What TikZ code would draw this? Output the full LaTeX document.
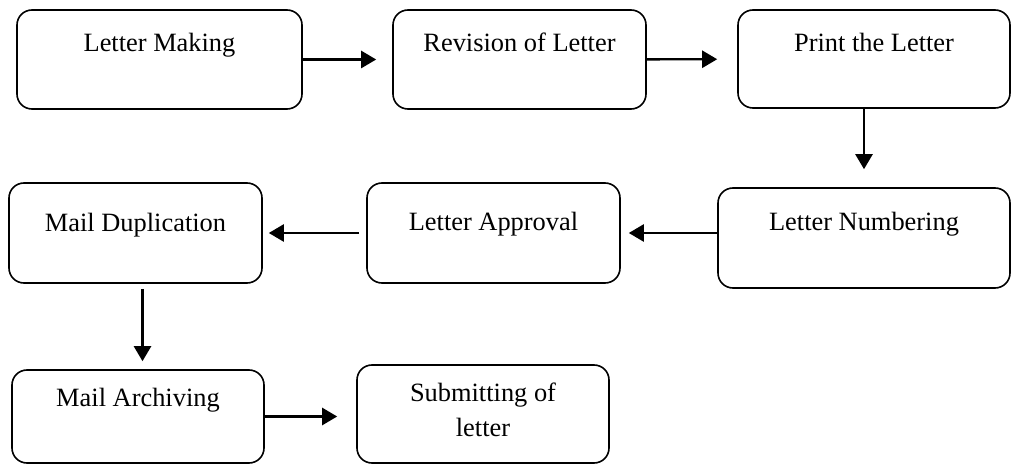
\documentclass[tikz,border=0pt]{standalone}
\usepackage{fontspec}
\setmainfont{Liberation Serif}
\usetikzlibrary{arrows.meta}
\tikzset{
  stage/.style={draw, line width=1.6pt, rounded corners=15pt, inner sep=0pt, align=center,
    font=\fontsize{26.4}{35}\selectfont},
  flow/.style={-{Triangle[length=15pt,width=17pt]}, line width=2.4pt}
}
\begin{document}
\begin{tikzpicture}[x=1pt, y=-1pt]
  \useasboundingbox (0,0) rectangle (1013,465);
  % first row
  \node[stage, minimum width=285pt, text height=41.5pt, text depth=57.5pt] (make) at (159.5,59.5) {Letter Making};
  \node[stage, minimum width=253pt, text height=41.5pt, text depth=57.5pt] (revise) at (519.5,59.5) {Revision of Letter};
  \node[stage, minimum width=272pt, text height=41.5pt, text depth=56.5pt] (print) at (874,59) {Print the Letter};
  % second row
  \node[stage, minimum width=292pt, text height=42.5pt, text depth=57.5pt] (numbering) at (864,238) {Letter Numbering};
  \node[stage, minimum width=253pt, text height=47.5pt, text depth=52.5pt] (approval) at (493.5,233) {Letter Approval};
  \node[stage, minimum width=253pt, text height=48.5pt, text depth=51.5pt] (duplication) at (135.5,233) {Mail Duplication};
  % third row
  \node[stage, minimum width=252pt, text height=36.5pt, text depth=56.5pt] (archive) at (138,416.5) {Mail Archiving};
  \node[stage, minimum width=252pt, text height=71.5pt, text depth=26.5pt] (submit) at (483,414) {Submitting of\\letter};
  % arrows
  \draw[flow, shorten >=16pt] (make) -- (revise);
  \draw[flow, shorten >=20pt] (revise) -- (print);
  \draw[flow, shorten >=18pt] (print.south -| numbering.north) -- (numbering.north);
  \draw[flow, shorten >=8pt] (numbering.west |- approval) -- (approval);
  \draw[flow, shorten <=7pt, shorten >=6pt] (approval) -- (duplication);
  \draw[flow, shorten <=5pt, shorten >=8pt] ([xshift=7pt]duplication.south) -- ([xshift=7pt]duplication.south |- archive.north);
  \draw[flow, shorten >=19pt] (archive.east) -- (archive -| submit.west);
\end{tikzpicture}
\end{document}
